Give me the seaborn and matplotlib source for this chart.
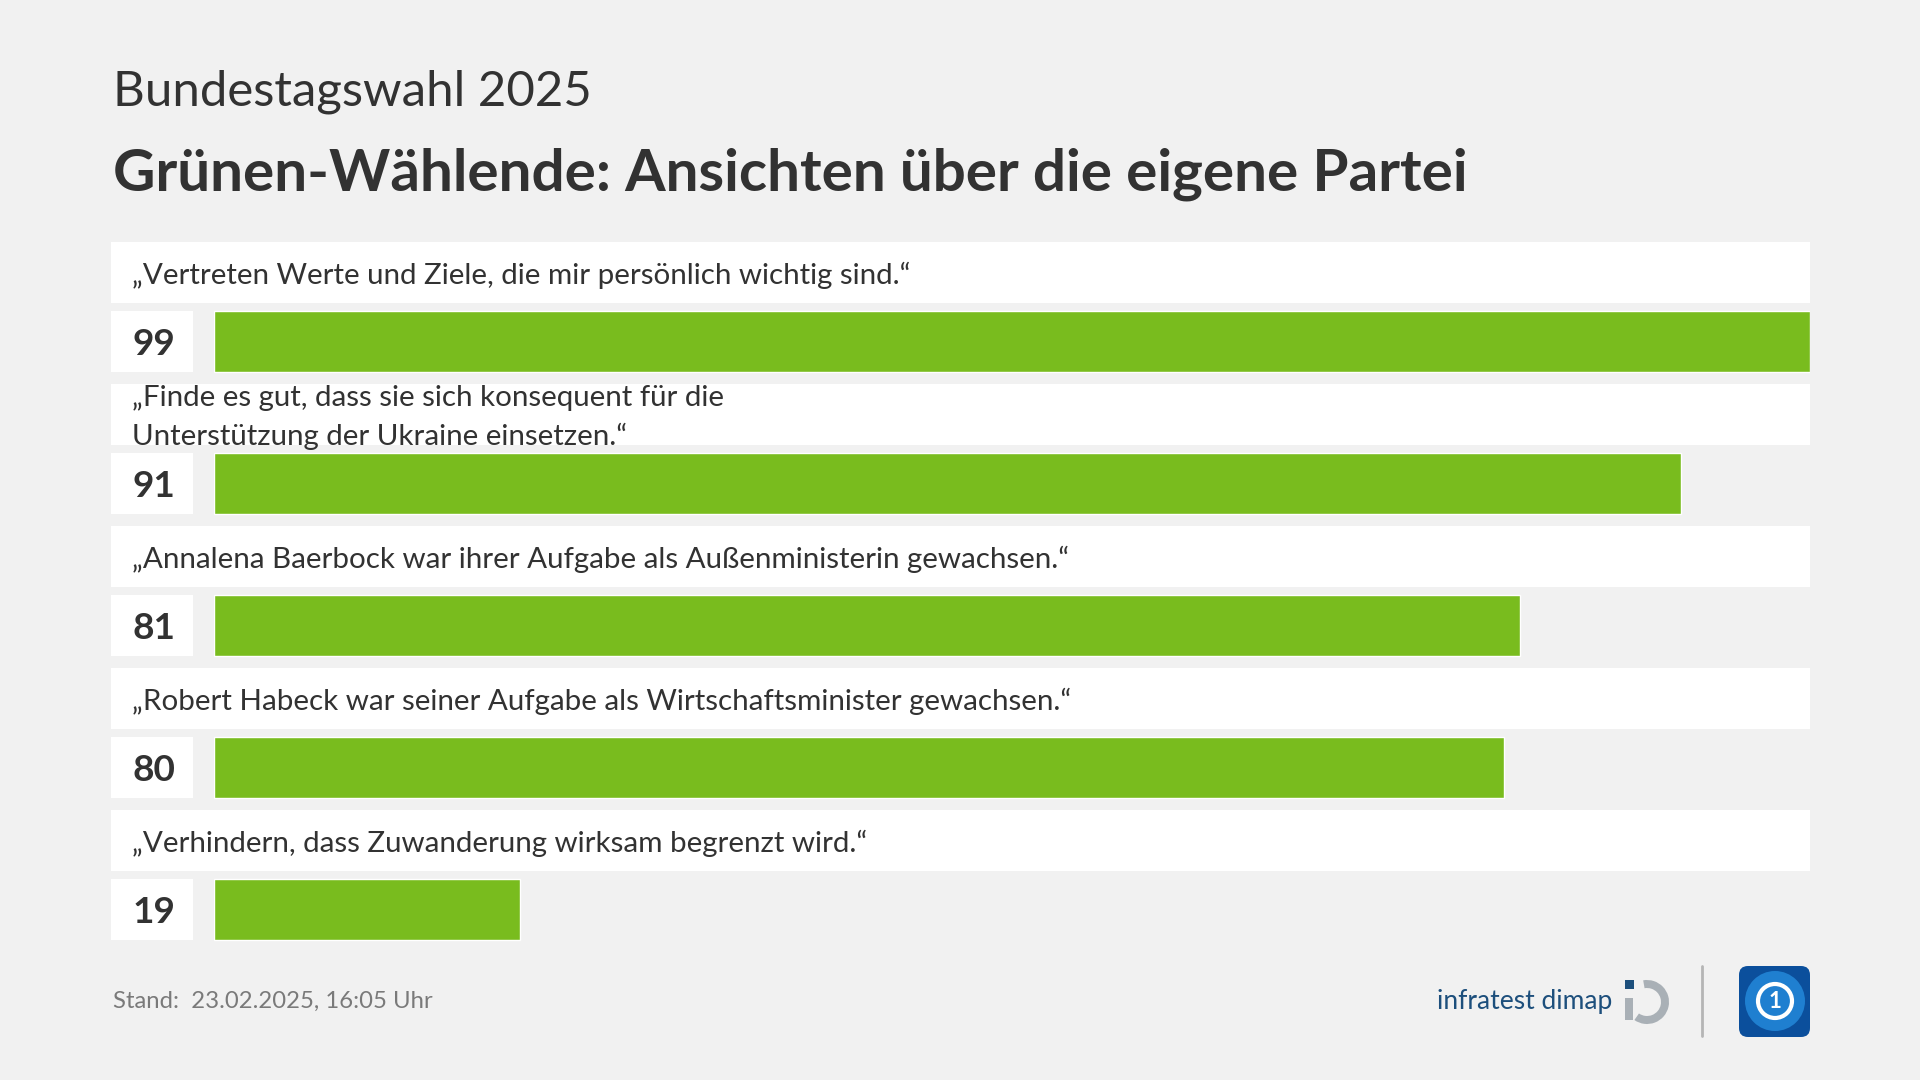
import matplotlib
matplotlib.use("Agg")
import matplotlib.pyplot as plt
import seaborn as sns
import pandas as pd
from matplotlib.patches import Rectangle, FancyBboxPatch, Wedge, Circle

# ---------------- data ----------------
statements = [
    "„Vertreten Werte und Ziele, die mir persönlich wichtig sind.“",
    "„Finde es gut, dass sie sich konsequent für die\nUnterstützung der Ukraine einsetzen.“",
    "„Annalena Baerbock war ihrer Aufgabe als Außenministerin gewachsen.“",
    "„Robert Habeck war seiner Aufgabe als Wirtschaftsminister gewachsen.“",
    "„Verhindern, dass Zuwanderung wirksam begrenzt wird.“",
]
values = [99, 91, 81, 80, 19]
subtitle = "Bundestagswahl 2025"
title = "Grünen-Wählende: Ansichten über die eigene Partei"
footer = "Stand:  23.02.2025, 16:05 Uhr"
source = "infratest dimap"

# ---------------- style ----------------
BG = "#f1f1f1"
GREEN = "#79bc1e"
TXT = "#323232"
GREY = "#7a7a7a"
BLUE = "#1d4f7c"

sns.set_theme(style="white")
plt.rcParams["font.family"] = ["Lato", "DejaVu Sans"]

W, H = 1920, 1080
fig = plt.figure(figsize=(19.2, 10.8), dpi=100, facecolor=BG)
renderer = fig.canvas.get_renderer()

# decoration layer in pixel coordinates
bg = fig.add_axes([0, 0, 1, 1])
bg.set_xlim(0, W)
bg.set_ylim(H, 0)
bg.axis("off")
bg.set_zorder(0)


def fit(t, target):
    w = t.get_window_extent(renderer).width
    t.set_fontsize(t.get_fontsize() * target / w)
    return t.get_fontsize()


# layout
LEFT = 111
BAR_L = 214
RIGHT = 1810
BOX_R = 193
FIRST_TOP = 242
ROW_H = 61
BAR_OFF = 69
PITCH = 142
n = len(values)

# titles
t_sub = bg.text(113, 92, subtitle, ha="left", va="center", fontsize=30,
                color=TXT, fontweight="normal")
fit(t_sub, 478)
t_title = bg.text(113, 174, title, ha="left", va="center", fontsize=40,
                  color=TXT, fontweight="bold")
fit(t_title, 1355)

# bands + value boxes + labels
label_texts = []
value_texts = []
for i, (s, v) in enumerate(zip(statements, values)):
    top = FIRST_TOP + PITCH * i
    bg.add_patch(Rectangle((LEFT, top), RIGHT - LEFT, ROW_H, fc="white", ec="none"))
    lt = bg.text(132, top + ROW_H / 2 + 3, s, ha="left", va="center", fontsize=19,
                 color=TXT, linespacing=1.5)
    label_texts.append(lt)
    btop = top + BAR_OFF
    bg.add_patch(Rectangle((LEFT, btop), BOX_R - LEFT, ROW_H, fc="white", ec="none"))
    vt = bg.text((LEFT + BOX_R) / 2 + 2, btop + ROW_H / 2 + 3, str(v), ha="center",
                 va="center", fontsize=24, color=TXT, fontweight="bold")
    value_texts.append(vt)

lab_fs = fit(label_texts[0], 780)
for t in label_texts[1:]:
    t.set_fontsize(lab_fs)
val_fs = fit(value_texts[0], 43)
for t in value_texts[1:]:
    t.set_fontsize(val_fs)

# bars via seaborn
ax_top = FIRST_TOP + BAR_OFF + ROW_H / 2 - PITCH / 2
ax_bot = ax_top + PITCH * n
ax = fig.add_axes([BAR_L / W, 1 - ax_bot / H, (RIGHT - BAR_L) / W, (ax_bot - ax_top) / H])
ax.set_zorder(1)
ax.patch.set_alpha(0)
df = pd.DataFrame({"statement": statements, "value": values})
sns.barplot(data=df, x="value", y="statement", order=statements, orient="h",
            color=GREEN, saturation=1, width=ROW_H / PITCH, ax=ax)
ax.set_xlim(0, max(values))
ax.set_ylim(n - 0.5, -0.5)
ax.axis("off")

# footer
t_foot = bg.text(113, 1001, footer, ha="left", va="center", fontsize=17, color=GREY)
fit(t_foot, 320)

t_src = bg.text(1437, 1002, source, ha="left", va="center", fontsize=18, color=BLUE)
fit(t_src, 174)

# infratest dimap icon
cx, cy = 1647, 1002
bg.add_patch(Wedge((cx, cy), 22, -100, 125, width=8, fc="#a9b0b6", ec="none"))
bg.add_patch(Rectangle((1625, 998), 8, 22, fc="#a9b0b6", ec="none"))
bg.add_patch(Rectangle((1625, 980), 9, 9, fc=BLUE, ec="none"))

# separator
bg.plot([1702, 1702], [966, 1036], color="#b5b5b5", lw=2, solid_capstyle="round")

# ARD / tagesschau icon
bg.add_patch(FancyBboxPatch((1739, 966), 71, 71,
                            boxstyle="round,pad=0,rounding_size=9",
                            fc="#0b4f9c", ec="none"))
bg.add_patch(Circle((1775, 1001), 30, fc="#1f7fd0", ec="none"))
bg.add_patch(Circle((1775, 1001), 17, fc="none", ec="white", lw=3))
bg.text(1775, 1002, "1", ha="center", va="center", color="white",
        fontsize=16, fontweight="bold")

fig.savefig("out.png", dpi=100, facecolor=BG)
